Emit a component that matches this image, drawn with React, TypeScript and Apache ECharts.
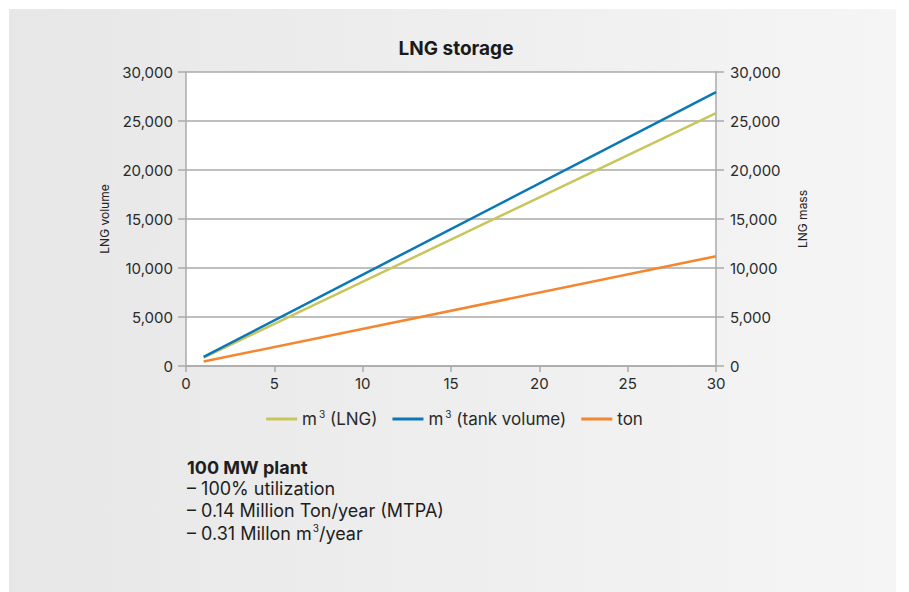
import React, { useEffect, useRef } from "react";
import * as echarts from "echarts";

const seriesNames = ["m3 (LNG)", "m3 (tank volume)", "ton"];
const lngVolume: [number, number][] = [[1, 860], [30, 25800]];
const tankVolume: [number, number][] = [[1, 930], [30, 27950]];
const lngMass: [number, number][] = [[1, 450], [30, 11200]];
const colors = ["#c8c55a", "#0a78b6", "#f5862f"];
const noteLines = [
  "100 MW plant",
  "– 100% utilization",
  "– 0.14 Million Ton/year (MTPA)",
  "– 0.31 Millon m{sup|3}/year",
];

const FONT = "Inter, 'Noto Sans', sans-serif";

export default function App() {
  const ref = useRef<HTMLDivElement>(null);
  useEffect(() => {
    if (!ref.current) return;
    const chart = echarts.init(ref.current, null, { renderer: "svg" });
    const fmt = (v: number) => v.toLocaleString("en-US");
    const yAxisCommon = {
      type: "value",
      min: 0,
      max: 30000,
      interval: 5000,
      nameLocation: "middle",
      nameTextStyle: { fontSize: 12, color: "#222", fontFamily: FONT },
      axisLine: { show: true, lineStyle: { color: "#aaaaaa", width: 1.5 } },
      axisTick: { show: true, length: 8, lineStyle: { color: "#aaaaaa", width: 1.5 } },
      axisLabel: { fontSize: 15, color: "#2a2a2a", fontFamily: FONT, formatter: fmt },
    };
    const legendRich = {
      sup: { fontSize: 10, color: "#2a2a2a", fontFamily: FONT, verticalAlign: "top", padding: [0, 0, 10, 2] },
      n: { fontSize: 17, color: "#2a2a2a", fontFamily: FONT },
    };
    chart.setOption({
      animation: false,
      backgroundColor: "transparent",
      title: {
        text: "LNG storage",
        left: 451,
        textAlign: "center",
        top: 34,
        textStyle: { fontSize: 19, fontWeight: "bold", color: "#1a1a1a", fontFamily: FONT },
      },
      legend: {
        top: 404,
        left: "center",
        itemGap: 15,
        itemWidth: 31,
        itemHeight: 3,
        icon: "rect",
        data: seriesNames,
        formatter: (name: string) =>
          name.startsWith("m3") ? "{n|m}{sup|3}{n|" + name.slice(2) + "}" : "{n|" + name + "}",
        textStyle: { fontSize: 17, color: "#2a2a2a", fontFamily: FONT, rich: legendRich },
      },
      grid: {
        left: 186,
        right: 193,
        top: 72,
        bottom: 226,
        show: true,
        backgroundColor: "#ffffff",
        borderWidth: 0,
      },
      xAxis: {
        type: "value",
        min: 0,
        max: 30,
        interval: 5,
        axisLine: { show: true, onZero: false, lineStyle: { color: "#aaaaaa", width: 1.5 } },
        axisTick: { show: true, length: 6, lineStyle: { color: "#aaaaaa", width: 1.5 } },
        axisLabel: { fontSize: 15, color: "#2a2a2a", fontFamily: FONT, margin: 10 },
        splitLine: { show: false },
      },
      yAxis: [
        {
          ...yAxisCommon,
          position: "left",
          name: "LNG volume",
          nameGap: 76,
          nameRotate: 90,
          axisLabel: { ...yAxisCommon.axisLabel, margin: 13 },
          splitLine: { show: true, lineStyle: { color: "#aaaaaa", width: 1.5 } },
        },
        {
          ...yAxisCommon,
          position: "right",
          name: "LNG mass",
          nameGap: 80,
          nameRotate: 90,
          axisLabel: { ...yAxisCommon.axisLabel, margin: 14 },
          splitLine: { show: false },
        },
      ],
      series: [
        { name: seriesNames[0], type: "line", data: lngVolume, yAxisIndex: 0, showSymbol: false, lineStyle: { width: 2.5, color: colors[0] }, itemStyle: { color: colors[0] } },
        { name: seriesNames[1], type: "line", data: tankVolume, yAxisIndex: 0, showSymbol: false, lineStyle: { width: 2.5, color: colors[1] }, itemStyle: { color: colors[1] } },
        { name: seriesNames[2], type: "line", data: lngMass, yAxisIndex: 1, showSymbol: false, lineStyle: { width: 2.5, color: colors[2] }, itemStyle: { color: colors[2] } },
      ],
      graphic: [
        {
          type: "rect",
          z: -10,
          silent: true,
          shape: { x: 9, y: 9, width: 887, height: 583 },
          style: {
            fill: new echarts.graphic.LinearGradient(0, 0, 1, 0, [
              { offset: 0, color: "#e6e7e6" },
              { offset: 1, color: "#f5f5f5" },
            ]),
          },
        },
        ...noteLines.map((t, i) => ({
          type: "text",
          left: 187,
          top: i === 0 ? 458 : 458 + i * 21.5,
          style: {
            text: i === 0 ? t : "{n|" + t.replace("{sup|3}", "}{sup|3}{n|") + "}",
            fontSize: 18,
            fontWeight: i === 0 ? "bold" : "normal",
            fill: "#1e1e1e",
            fontFamily: FONT,
            rich: {
              n: { fontSize: 18, fill: "#1e1e1e", fontFamily: FONT },
              sup: { fontSize: 10, fill: "#1e1e1e", fontFamily: FONT, verticalAlign: "top", padding: [0, 0, 11, 1] },
            },
          },
        })),
      ],
    });
    return () => chart.dispose();
  }, []);
  return (
    <div
      ref={ref}
      style={{ position: "absolute", left: 0, top: 0, width: 909, height: 592, background: "#ffffff" }}
    />
  );
}
